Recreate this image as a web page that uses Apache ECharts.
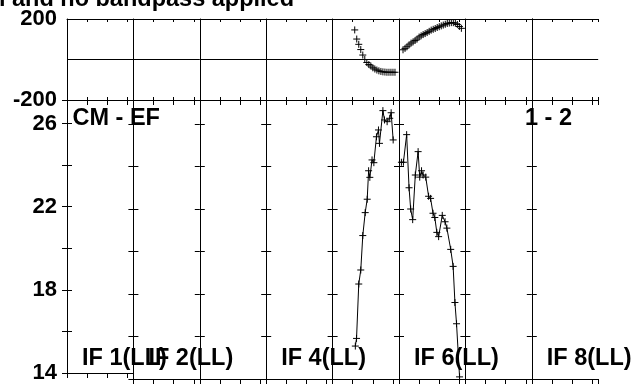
<!DOCTYPE html>
<html><head><meta charset="utf-8">
<script src="https://cdn.jsdelivr.net/npm/echarts@6/dist/echarts.min.js"></script>
<style>html,body{margin:0;padding:0;background:#fff}#c{width:634px;height:384px}</style>
</head><body><div id="c"></div>
<script>
// ---- data ----
const TITLE = 'calibration and no bandpass applied';
const BASELINE = 'CM - EF';
const STOKES_LABEL = '1 - 2';
const IF_LABELS = ['IF 1(LL)', 'IF 2(LL)', 'IF 4(LL)', 'IF 6(LL)', 'IF 8(LL)'];
const IF_LABEL_COLS = [0, 1, 3, 5, 7];
const N_IF = 8;
const CHAN_SPAN = 33;          // channel units per IF column
const CHAN_TICK = 10;
const PHASE_MIN = -200, PHASE_MAX = 200, PHASE_STEP = 200;
const AMP_MIN = 14, AMP_MAX = 27.13, AMP_STEP = 2;
const AMP_LABELS = [14, 18, 22, 26];
const PHASE_LABELS = [-200, 200];

// IF 5 (column index 4)
const if5PhaseChan = [11,12,13,14,15,16,17,18,19,20,21,22,23,24,25,26,27,28,29,30,31];
const if5Phase = [146,101,75,49,22,0,-15,-25,-32,-41,-47,-52,-56,-59,-61,-62,-63,-63,-63,-63,-63];
const if5AmpChan = [11.3,11.9,13.0,14.0,15.0,16.2,17.2,17.9,18.5,19.6,20.5,21.8,22.8,23.3,25.0,25.8,27.1,28.4,29.1,30.1];
const if5Amp = [15.55,15.91,18.47,19.13,20.75,21.83,22.46,23.8,23.49,24.31,24.18,25.4,25.72,25.09,26.63,26.19,26.11,26.27,26.53,25.25];

// IF 6 (column index 5)
const if6PhaseChan = [2,3,4,5,6,7,8,9,10,11,12,13,14,15,16,17,18,19,20,21,22,23,24,25,26,27,28,29,30,31];
const if6Phase = [48,55,63,72,81,87,94,101,111,117,123,128,133,139,145,149,153,158,162,166,170,174,178,180,182,182,179,173,163,154];
const if6AmpChan = [1.2,2.2,3.8,5.0,5.8,6.8,8.1,9.5,10.3,11.2,12.0,13.3,14.7,15.7,16.9,17.8,18.8,19.7,21.5,22.9,23.8,25.7,26.9,27.8,28.6,30.1];
const if6Amp = [24.2,24.2,25.5,23.0,22.0,21.5,23.6,24.7,23.5,23.8,23.6,23.5,22.6,22.5,21.8,21.6,20.9,20.7,21.7,21.4,21.1,20.1,19.3,17.6,16.6,14.1];

// ---- layout ----
const L = 67, COLW = 66.4, TOP1 = 19, H1 = 81, TOP2 = 100, H2 = 279;
const FONT = '"Liberation Sans", Arial, Helvetica, sans-serif';
const INK = '#000';

const grids = [], xAxes = [], yAxes = [];
function addGrid(col, row) {
  const g = grids.length;
  grids.push({left: L + col * COLW, width: COLW, top: row === 0 ? TOP1 : TOP2, height: row === 0 ? H1 : H2, containLabel: false});
  const xBase = {gridIndex: g, type: 'value', min: 0, max: CHAN_SPAN, interval: CHAN_TICK,
    axisLabel: {show: false}, splitLine: {show: false},
    axisLine: {show: true, onZero: false, lineStyle: {color: INK, width: 1}}};
  xAxes.push(Object.assign({}, xBase, {position: 'bottom',
    axisTick: {show: true, inside: row === 0, length: row === 0 ? 3 : 5, lineStyle: {color: INK}}}));
  xAxes.push(Object.assign({}, xBase, {position: 'top',
    axisTick: {show: true, inside: true, length: row === 0 ? 3 : 5, lineStyle: {color: INK}}}));
  if (row === 0) {
    yAxes.push({gridIndex: g, type: 'value', position: 'left', min: PHASE_MIN, max: PHASE_MAX, interval: PHASE_STEP,
      axisLine: {show: true, lineStyle: {color: INK}}, axisTick: {show: false},
      splitLine: {show: true, lineStyle: {color: INK, width: 1}},
      axisLabel: {show: col === 0, margin: 10, fontFamily: FONT, fontWeight: 'bold', fontSize: 22, color: INK,
        formatter: v => PHASE_LABELS.includes(v) ? String(v) : ''}});
    yAxes.push({gridIndex: g, type: 'value', position: 'right', min: PHASE_MIN, max: PHASE_MAX, interval: PHASE_STEP,
      axisLine: {show: col === N_IF - 1, lineStyle: {color: INK}}, axisTick: {show: false},
      splitLine: {show: false}, axisLabel: {show: false}});
  } else {
    yAxes.push({gridIndex: g, type: 'value', position: 'left', min: AMP_MIN, max: AMP_MAX, interval: AMP_STEP,
      axisLine: {show: true, lineStyle: {color: INK}},
      axisTick: {show: true, inside: true, length: 5, lineStyle: {color: INK}},
      splitLine: {show: false},
      axisLabel: {show: col === 0, margin: 10, fontFamily: FONT, fontWeight: 'bold', fontSize: 22, color: INK,
        formatter: v => AMP_LABELS.includes(v) ? String(v) : ''}});
    yAxes.push({gridIndex: g, type: 'value', position: 'right', min: AMP_MIN, max: AMP_MAX, interval: AMP_STEP,
      axisLine: {show: col === N_IF - 1, lineStyle: {color: INK}},
      axisTick: {show: true, inside: true, length: 5, lineStyle: {color: INK}},
      splitLine: {show: false}, axisLabel: {show: false}});
  }
  return g;
}
const topIdx = [], botIdx = [];
for (let c = 0; c < N_IF; c++) topIdx.push(addGrid(c, 0));
for (let c = 0; c < N_IF; c++) botIdx.push(addGrid(c, 1));

const CROSS = 'path://M0,5L10,5M5,0L5,10';
const zip = (a, b) => a.map((v, i) => [v, b[i]]);
function phaseSeries(col, ch, ph) {
  const g = topIdx[col];
  return {type: 'scatter', xAxisIndex: 2 * g, yAxisIndex: 2 * g, data: zip(ch, ph),
    symbol: CROSS, symbolSize: 7, silent: true,
    itemStyle: {color: 'none', borderColor: INK, borderWidth: 1, opacity: 1}};
}
function ampSeries(col, ch, amp) {
  const g = botIdx[col];
  return {type: 'line', xAxisIndex: 2 * g, yAxisIndex: 2 * g, data: zip(ch, amp),
    symbol: CROSS, symbolSize: 7, showSymbol: true, showAllSymbol: true, silent: true,
    lineStyle: {color: INK, width: 1}, itemStyle: {color: 'none', borderColor: INK, borderWidth: 1},
    animation: false};
}

const textEl = (text, x, y, align) => ({type: 'text', x, y, z: 10, silent: true,
  style: {text, x: 0, y: 0, align: align || 'left', verticalAlign: 'middle', fill: INK,
    font: 'bold 23.5px ' + FONT}});

const graphics = [
  textEl(TITLE, 294, 0, 'right'),
  textEl(BASELINE, 72.5, 118.5),
  textEl(STOKES_LABEL, 525, 118.5),
];
IF_LABELS.forEach((t, i) => graphics.push(textEl(t, L + IF_LABEL_COLS[i] * COLW + 15, 358.5)));

const chart = echarts.init(document.getElementById('c'), null, {renderer: 'canvas'});
chart.setOption({
  animation: false,
  backgroundColor: '#fff',
  grid: grids, xAxis: xAxes, yAxis: yAxes,
  series: [
    phaseSeries(4, if5PhaseChan, if5Phase),
    phaseSeries(5, if6PhaseChan, if6Phase),
    ampSeries(4, if5AmpChan, if5Amp),
    ampSeries(5, if6AmpChan, if6Amp)
  ],
  graphic: graphics
});
</script></body></html>
